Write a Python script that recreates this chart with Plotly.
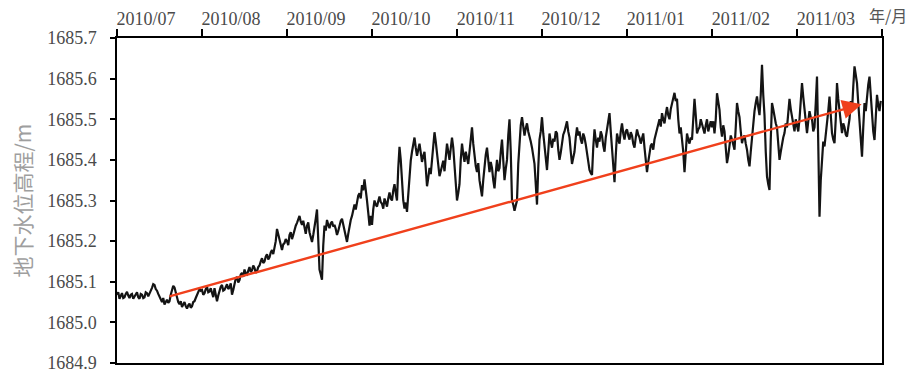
import plotly.graph_objects as go

# ---- data ----
month_labels = ["2010/07", "2010/08", "2010/09", "2010/10", "2010/11",
                "2010/12", "2011/01", "2011/02", "2011/03"]

# groundwater level (m), one list per month, evenly spaced samples inside the month
m0 = [1685.068, 1685.074, 1685.058, 1685.064, 1685.072, 1685.060, 1685.062, 1685.070, 1685.075, 1685.066,
      1685.060, 1685.068, 1685.070, 1685.058, 1685.064, 1685.072, 1685.074, 1685.062, 1685.058, 1685.070,
      1685.068, 1685.060, 1685.062, 1685.074, 1685.072, 1685.064, 1685.070, 1685.080, 1685.085, 1685.094,
      1685.092, 1685.082, 1685.078, 1685.070, 1685.062, 1685.054, 1685.050, 1685.060, 1685.044, 1685.050,
      1685.056, 1685.048, 1685.052, 1685.068, 1685.080, 1685.090, 1685.086, 1685.070, 1685.062, 1685.050,
      1685.045, 1685.052, 1685.038, 1685.044, 1685.050, 1685.040, 1685.034, 1685.042, 1685.046, 1685.036,
      1685.040, 1685.050, 1685.052, 1685.060, 1685.066, 1685.074, 1685.082, 1685.078]
m1 = [1685.080, 1685.068, 1685.072, 1685.082, 1685.088, 1685.074, 1685.076, 1685.084, 1685.070, 1685.062,
      1685.084, 1685.070, 1685.052, 1685.066, 1685.078, 1685.088, 1685.092, 1685.078, 1685.080, 1685.090,
      1685.094, 1685.082, 1685.086, 1685.096, 1685.068, 1685.080, 1685.098, 1685.108, 1685.112, 1685.098,
      1685.104, 1685.118, 1685.122, 1685.112, 1685.130, 1685.120, 1685.118, 1685.128, 1685.136, 1685.124,
      1685.128, 1685.140, 1685.134, 1685.122, 1685.126, 1685.136, 1685.140, 1685.150, 1685.158, 1685.146,
      1685.150, 1685.162, 1685.168, 1685.155, 1685.160, 1685.172, 1685.178, 1685.168, 1685.186, 1685.200,
      1685.230, 1685.215, 1685.205, 1685.188, 1685.178, 1685.192, 1685.195, 1685.205]
m2 = [1685.200, 1685.190, 1685.215, 1685.222, 1685.205, 1685.215, 1685.228, 1685.238, 1685.245, 1685.255,
      1685.262, 1685.248, 1685.240, 1685.250, 1685.228, 1685.218, 1685.238, 1685.246, 1685.222, 1685.210,
      1685.198, 1685.215, 1685.232, 1685.255, 1685.278, 1685.200, 1685.130, 1685.118, 1685.105, 1685.190,
      1685.238, 1685.226, 1685.252, 1685.240, 1685.232, 1685.244, 1685.248, 1685.236, 1685.240, 1685.230,
      1685.215, 1685.225, 1685.238, 1685.250, 1685.255, 1685.240, 1685.228, 1685.215, 1685.198, 1685.218,
      1685.238, 1685.252, 1685.262, 1685.280, 1685.290, 1685.278, 1685.300, 1685.312, 1685.318, 1685.305,
      1685.338, 1685.325, 1685.352, 1685.330, 1685.300, 1685.270, 1685.238, 1685.262]
m3 = [1685.240, 1685.278, 1685.300, 1685.290, 1685.285, 1685.298, 1685.310, 1685.296, 1685.292, 1685.280,
      1685.305, 1685.295, 1685.285, 1685.305, 1685.320, 1685.305, 1685.300, 1685.325, 1685.340, 1685.318,
      1685.300, 1685.380, 1685.432, 1685.400, 1685.330, 1685.300, 1685.280, 1685.295, 1685.272, 1685.320,
      1685.375, 1685.398, 1685.420, 1685.440, 1685.455, 1685.430, 1685.410, 1685.425, 1685.440, 1685.418,
      1685.395, 1685.410, 1685.420, 1685.380, 1685.335, 1685.355, 1685.380, 1685.365, 1685.398, 1685.440,
      1685.468, 1685.445, 1685.420, 1685.390, 1685.360, 1685.372, 1685.385, 1685.398, 1685.372, 1685.405,
      1685.440, 1685.420, 1685.400, 1685.428, 1685.455, 1685.430, 1685.390, 1685.330]
m4 = [1685.300, 1685.318, 1685.340, 1685.400, 1685.440, 1685.415, 1685.395, 1685.420, 1685.405, 1685.390,
      1685.420, 1685.455, 1685.480, 1685.440, 1685.410, 1685.385, 1685.370, 1685.392, 1685.350, 1685.330,
      1685.310, 1685.350, 1685.390, 1685.412, 1685.430, 1685.395, 1685.370, 1685.395, 1685.380, 1685.350,
      1685.330, 1685.368, 1685.400, 1685.372, 1685.380, 1685.420, 1685.450, 1685.400, 1685.350, 1685.378,
      1685.400, 1685.460, 1685.500, 1685.420, 1685.300, 1685.290, 1685.275, 1685.288, 1685.300, 1685.390,
      1685.450, 1685.485, 1685.505, 1685.475, 1685.460, 1685.478, 1685.490, 1685.470, 1685.460, 1685.445,
      1685.430, 1685.410, 1685.390, 1685.340, 1685.290, 1685.380, 1685.450, 1685.470]
m5 = [1685.505, 1685.465, 1685.430, 1685.400, 1685.375, 1685.420, 1685.465, 1685.445, 1685.430, 1685.452,
      1685.445, 1685.470, 1685.465, 1685.425, 1685.400, 1685.418, 1685.440, 1685.462, 1685.470, 1685.485,
      1685.495, 1685.470, 1685.455, 1685.420, 1685.390, 1685.405, 1685.420, 1685.455, 1685.480, 1685.460,
      1685.470, 1685.450, 1685.440, 1685.465, 1685.455, 1685.438, 1685.420, 1685.395, 1685.375, 1685.368,
      1685.363, 1685.430, 1685.475, 1685.450, 1685.430, 1685.455, 1685.445, 1685.470, 1685.460, 1685.435,
      1685.420, 1685.455, 1685.480, 1685.500, 1685.515, 1685.470, 1685.430, 1685.390, 1685.345, 1685.410,
      1685.465, 1685.450, 1685.440, 1685.470, 1685.490, 1685.465, 1685.450, 1685.470]
m6 = [1685.475, 1685.460, 1685.450, 1685.468, 1685.460, 1685.440, 1685.430, 1685.455, 1685.475, 1685.462,
      1685.455, 1685.440, 1685.450, 1685.465, 1685.430, 1685.400, 1685.370, 1685.395, 1685.420, 1685.435,
      1685.440, 1685.425, 1685.450, 1685.462, 1685.475, 1685.488, 1685.500, 1685.482, 1685.515, 1685.500,
      1685.490, 1685.512, 1685.530, 1685.510, 1685.500, 1685.525, 1685.540, 1685.555, 1685.565, 1685.545,
      1685.550, 1685.500, 1685.465, 1685.480, 1685.450, 1685.420, 1685.370, 1685.420, 1685.465, 1685.450,
      1685.440, 1685.455, 1685.450, 1685.500, 1685.550, 1685.510, 1685.465, 1685.475, 1685.480, 1685.500,
      1685.490, 1685.475, 1685.465, 1685.485, 1685.500, 1685.470, 1685.480, 1685.495]
m7 = [1685.480, 1685.495, 1685.465, 1685.500, 1685.564, 1685.540, 1685.523, 1685.480, 1685.457, 1685.485,
      1685.470, 1685.430, 1685.392, 1685.410, 1685.433, 1685.460, 1685.450, 1685.440, 1685.425, 1685.480,
      1685.540, 1685.520, 1685.505, 1685.470, 1685.441, 1685.455, 1685.460, 1685.440, 1685.425, 1685.400,
      1685.384, 1685.420, 1685.460, 1685.490, 1685.520, 1685.540, 1685.556, 1685.530, 1685.510, 1685.560,
      1685.634, 1685.560, 1685.510, 1685.420, 1685.359, 1685.340, 1685.326, 1685.450, 1685.540, 1685.525,
      1685.505, 1685.490, 1685.480, 1685.440, 1685.400, 1685.420, 1685.440, 1685.455, 1685.466, 1685.490,
      1685.480, 1685.515, 1685.550, 1685.525, 1685.505, 1685.485, 1685.470, 1685.500]
m8 = [1685.480, 1685.470, 1685.500, 1685.540, 1685.589, 1685.555, 1685.520, 1685.490, 1685.466, 1685.495,
      1685.520, 1685.505, 1685.500, 1685.470, 1685.480, 1685.540, 1685.605, 1685.440, 1685.260, 1685.350,
      1685.410, 1685.445, 1685.433, 1685.460, 1685.480, 1685.520, 1685.556, 1685.500, 1685.466, 1685.450,
      1685.441, 1685.500, 1685.589, 1685.550, 1685.520, 1685.480, 1685.466, 1685.490, 1685.480, 1685.462,
      1685.457, 1685.480, 1685.500, 1685.545, 1685.520, 1685.580, 1685.630, 1685.610, 1685.589, 1685.540,
      1685.500, 1685.440, 1685.408, 1685.480, 1685.540, 1685.520, 1685.560, 1685.585, 1685.605, 1685.550,
      1685.500, 1685.470, 1685.449, 1685.510, 1685.560, 1685.535, 1685.520, 1685.545]

months = [m0, m1, m2, m3, m4, m5, m6, m7, m8]

# trend arrow (start / end, month index and level)
trend_x = [0.6, 8.76]
trend_y = [1685.063, 1685.537]

y_ticks = [1684.9, 1685.0, 1685.1, 1685.2, 1685.3, 1685.4, 1685.5, 1685.6, 1685.7]

# ---- sample positions on an evenly spaced month axis ----
t, level = [], []
for i, vals in enumerate(months):
    n = len(vals)
    t.extend(i + k / n for k in range(n))
    level.extend(vals)

fig = go.Figure()
fig.add_trace(go.Scatter(x=t, y=level, mode="lines",
                         line=dict(color="#141414", width=2.2),
                         showlegend=False, hoverinfo="skip"))
# invisible trace to anchor the label axis
fig.add_trace(go.Scatter(x=[0, 9], y=[1685.3, 1685.3], xaxis="x2", mode="markers",
                         marker=dict(opacity=0), showlegend=False, hoverinfo="skip"))

fig.add_annotation(x=trend_x[1], y=trend_y[1], ax=trend_x[0], ay=trend_y[0],
                   xref="x", yref="y", axref="x", ayref="y",
                   text="", showarrow=True, arrowhead=2, arrowsize=1.6,
                   arrowwidth=2.4, arrowcolor="#F0401C")

# x-axis unit (top right)
fig.add_annotation(x=1.0, y=1.0, xref="paper", yref="paper", xanchor="left", yanchor="middle",
                   xshift=-15, yshift=23, text="年/月", showarrow=False,
                   font=dict(family="Noto Sans CJK SC", size=16, color="#555555"))

# y-axis title
fig.add_annotation(x=0.0, y=0.5, xref="paper", yref="paper", xanchor="center", yanchor="middle",
                   xshift=-96, textangle=-90, text="地下水位高程/m", showarrow=False,
                   font=dict(family="Noto Sans CJK SC", size=21, color="#9e9e9e"))

serif = "Liberation Serif, Times New Roman, DejaVu Serif, serif"
tick_font = dict(family=serif, size=18, color="#4a4a4a")

fig.update_layout(
    width=914, height=371,
    margin=dict(l=117, r=32, t=38, b=8, autoexpand=False),
    paper_bgcolor="white", plot_bgcolor="white",
    xaxis=dict(range=[0, 9], side="top", tickvals=list(range(10)), ticktext=[""] * 10,
               ticks="outside", ticklen=7, tickwidth=1.5, tickcolor="black",
               showline=True, linewidth=1.5, linecolor="black", mirror=True,
               showgrid=False, zeroline=False),
    xaxis2=dict(range=[0, 9], side="top", overlaying="x",
                tickvals=[i + 0.34 for i in range(len(month_labels))], ticktext=month_labels,
                ticks="", showline=False, showgrid=False, zeroline=False,
                tickfont=tick_font, ticklabelstandoff=8),
    yaxis=dict(range=[1684.9, 1685.7], tickvals=y_ticks, tickformat=".1f",
               ticks="outside", ticklen=5, tickwidth=1.5, tickcolor="black",
               showline=True, linewidth=1.5, linecolor="black", mirror=True,
               showgrid=False, zeroline=False, tickfont=tick_font, ticklabelstandoff=10,
               ticklabeloverflow="allow"),
)

fig.write_html("out.html", config={"displayModeBar": False},
               post_script="document.body.style.margin='0';document.body.style.overflow='hidden';")
